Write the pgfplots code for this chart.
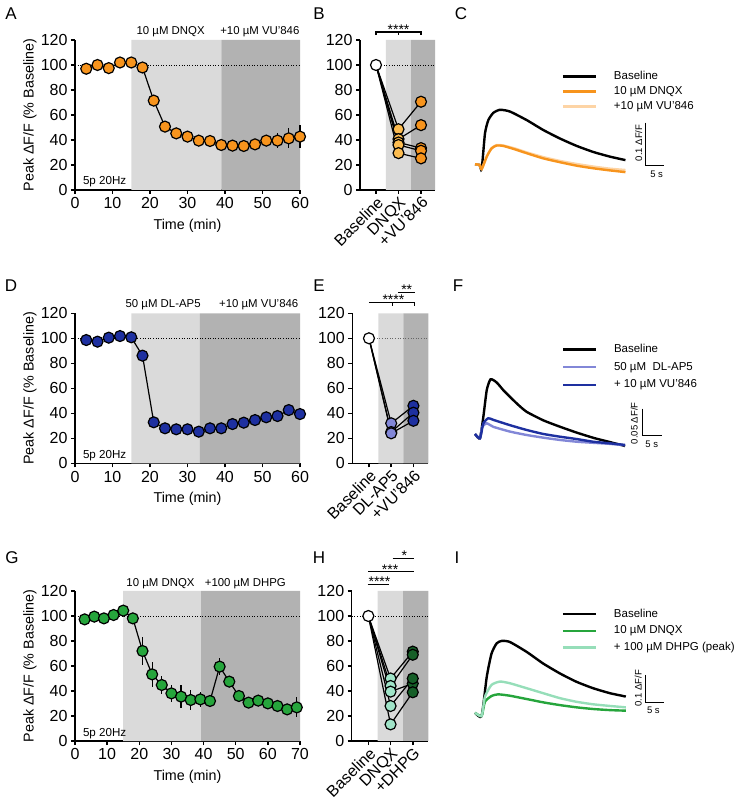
\documentclass[border=0pt]{standalone}
\usepackage{pgfplots}
\pgfplotsset{compat=1.18}
\usepackage{pgfplotstable}
\usepackage{fontspec}
\setmainfont{Liberation Sans}

\definecolor{shL}{RGB}{218,218,218}
\definecolor{shD}{RGB}{178,178,178}
\definecolor{orA}{RGB}{247,148,29}
\definecolor{orL}{RGB}{252,188,80}
\definecolor{orT}{RGB}{253,212,165}
\definecolor{blD}{RGB}{30,48,160}
\definecolor{blL}{RGB}{130,135,215}
\definecolor{grA}{RGB}{38,165,60}
\definecolor{grL}{RGB}{160,228,200}
\definecolor{grD}{RGB}{22,95,40}
\definecolor{grT}{RGB}{150,222,185}

\pgfplotstableread{
x y e
3 97 0
6 100 0
9 97.5 0
12 102 0
15 102 0
18 98 0
21 71.5 2
24 50.7 2
27 45.3 2
30 42.7 2
33 39.5 2
36 39.2 3
39 36 3
42 35.5 3
45 35.2 3
48 36.5 3
51 39.5 4
54 39.5 6
57 41.3 8
60 42.7 9
}\dataA

\pgfplotstableread{
x y e
3 98.6 0
6 97.3 0
9 100.5 0
12 101.8 0
15 100.8 0
18 86.1 1
21 32.8 1
24 28 1
27 27.2 1
30 27.2 1
33 25.3 1
36 28 1
39 28 1
42 31.4 1
45 32.5 1
48 34.6 1
51 36.8 1
54 37.8 1
57 42.6 2
60 39.4 2
}\dataD

\pgfplotstableread{
x y e
3 97.3 1
6 99.5 1
9 98.1 1
12 100.8 1
15 104.3 1
18 98.1 2
21 72 11
24 53.3 10
27 44.8 7
30 38.1 7
33 35.5 9
36 32.8 8
39 33.3 6
42 32 3
45 59.5 7
48 47.5 4
51 36 4
54 30.7 3
57 32.3 3
60 30.1 3
63 28 4
66 25.3 4
69 26.9 8
}\dataG

\pgfplotsset{
  prism/.style={
    scale only axis, clip=false,
    axis lines=left,
    axis line style={line width=1.5pt,-},
    tick align=outside,
    major tick length=4pt,
    tick style={line width=1.5pt,black},
    ymin=0, ymax=120, ytick={0,20,...,120},
    /pgf/number format/assume math mode=true,
    tick label style={font=\fontsize{16}{18}\selectfont},
    label style={font=\fontsize{14.3}{16}\selectfont},
    height=150pt,
  },
  timeaxis/.style={prism, width=225pt, xmin=0,
    xlabel={Time (min)}, ylabel={Peak ΔF/F (\% Baseline)},
    ylabel style={at={(axis description cs:-0.2,0.5)}, anchor=center},
    xlabel style={at={(axis description cs:0.5,-0.24)}, anchor=center},
  },
  cataxis/.style={prism, xtick={0,1,2},
    x tick label style={rotate=45, anchor=north east, inner sep=1pt, font=\fontsize{16}{18}\selectfont},
  },
  dmark/.style={mark=*, mark size=5.5pt, mark options={fill=#1, draw=black, line width=1.2pt, solid}},
  tline/.style={black, line width=1.2pt},
  traceax/.style={scale only axis, clip=false, hide axis, xmin=0, xmax=45,
    legend cell align=left,
    legend image code/.code={\draw[line width=2.6pt,##1] (0pt,0pt) -- (33pt,0pt); \path[draw=none, fill=none] (0pt,0pt) -- (51pt,0pt);},
    legend style={anchor=north west, draw=none, fill=none, inner sep=0pt, outer sep=0pt,
      column sep=0pt, nodes={inner sep=0pt, text height=8pt, text depth=2pt},
      font=\fontsize{11.5}{13}\selectfont},
  },
  trace/.style={line width=2.4pt, smooth, tension=0.35, no marks, #1},
}

\begin{document}
\begin{tikzpicture}[x=1pt,y=1pt]
\useasboundingbox (0,0) rectangle (740,806);

% panel letters
\node[font=\fontsize{17}{19}\selectfont] at (11,792) {A};
\node[font=\fontsize{17}{19}\selectfont] at (319,792) {B};
\node[font=\fontsize{17}{19}\selectfont] at (461,792) {C};
\node[font=\fontsize{17}{19}\selectfont] at (11,520) {D};
\node[font=\fontsize{17}{19}\selectfont] at (319,520) {E};
\node[font=\fontsize{17}{19}\selectfont] at (458,520) {F};
\node[font=\fontsize{17}{19}\selectfont] at (12,248) {G};
\node[font=\fontsize{17}{19}\selectfont] at (319,248) {H};
\node[font=\fontsize{17}{19}\selectfont] at (457,248) {I};

% ---------------- A ----------------
\begin{axis}[timeaxis, at={(75pt,616pt)}, anchor=south west, xmax=60, xtick={0,10,...,60}]
\addplot[draw=none, fill=shL, forget plot] coordinates {(15,0) (15,120) (39,120) (39,0)} \closedcycle;
\addplot[draw=none, fill=shD, forget plot] coordinates {(39,0) (39,120) (60,120) (60,0)} \closedcycle;
\addplot[black, line width=0.9pt, dash pattern=on 1pt off 1.6pt] coordinates {(0,100) (60,100)};
\addplot[tline, dmark=orA, error bars/.cd, y dir=both, y explicit, error mark=none,
  error bar style={line width=1.2pt, black}] table[x=x, y=y, y error=e] {\dataA};
\node[font=\fontsize{11.4}{13}\selectfont] at (axis cs:25.5,126.4) {10 µM DNQX};
\node[font=\fontsize{11.4}{13}\selectfont] at (axis cs:49.3,126.4) {+10 µM VU’846};
\node[font=\fontsize{11.6}{13}\selectfont, anchor=west] at (axis cs:1.2,6.4) {5p 20Hz};
\end{axis}

% ---------------- B ----------------
\begin{axis}[cataxis, at={(360pt,616pt)}, anchor=south west, width=75pt,
  xmin=-0.711, xmax=2.622, xticklabels={Baseline,DNQX,+VU’846}]
\addplot[draw=none, fill=shL, forget plot] coordinates {(0.444,0) (0.444,120) (1.556,120) (1.556,0)} \closedcycle;
\addplot[draw=none, fill=shD, forget plot] coordinates {(1.556,0) (1.556,120) (2.622,120) (2.622,0)} \closedcycle;
\addplot[black, line width=0.9pt, dash pattern=on 1pt off 1.6pt] coordinates {(0,100) (2.622,100)};
\addplot[tline] coordinates {(0,100) (1,48.6) (2,70.6)};
\addplot[tline] coordinates {(0,100) (1,40.7) (2,51.9)};
\addplot[tline] coordinates {(0,100) (1,38) (2,33.5)};
\addplot[tline] coordinates {(0,100) (1,36) (2,31.4)};
\addplot[tline] coordinates {(0,100) (1,29.5) (2,25.3)};
\addplot[only marks, dmark=white] coordinates {(0,100)};
\addplot[only marks, dmark=orL] coordinates {(1,48.6) (1,40.7) (1,38) (1,36) (1,29.5)};
\addplot[only marks, dmark=orA] coordinates {(2,70.6) (2,51.9) (2,33.5) (2,31.4) (2,25.3)};
\draw[line width=1.2pt] (axis cs:0,123.9) -- (axis cs:0,126.4) -- (axis cs:2,126.4) -- (axis cs:2,123.9);
\draw[line width=1.2pt] (axis cs:1,126.4) -- (axis cs:1,123.9);
\node[font=\fontsize{14}{15}\selectfont, anchor=base, yshift=-2.3pt] at (axis cs:1,126.4) {****};
\end{axis}

% ---------------- C ----------------
\begin{axis}[traceax, at={(475pt,623.1pt)}, anchor=south west, width=165.15pt, height=81.7pt,
  ymin=-0.03, ymax=0.16, legend style={at={(axis cs:23.62,0.2286)}, row sep=5pt}]
\addplot[trace=black] coordinates {(0,0.013) (1.2,0.012) (1.82,0.002) (2.72,0.085) (3.63,0.116) (5.0,0.133) (6.8,0.140) (9.5,0.136) (14.1,0.116) (18.6,0.093) (23.2,0.073) (27.7,0.056) (32.2,0.042) (36.8,0.031) (41,0.023)};
\addlegendentry{Baseline}
\addplot[trace=orT, forget plot] coordinates {(0,0.013) (1.2,0.012) (1.82,0.002) (3.2,0.032) (4.5,0.051) (5.9,0.058) (7.7,0.057) (10.9,0.050) (14.1,0.041) (18.6,0.030) (23.2,0.021) (27.7,0.014) (32.2,0.008) (36.8,0.003) (41,0.0)};
\addplot[trace=orA] coordinates {(0,0.013) (1.2,0.012) (1.82,0.002) (3.2,0.031) (4.5,0.050) (5.9,0.057) (7.7,0.056) (10.9,0.048) (14.1,0.039) (18.6,0.027) (23.2,0.018) (27.7,0.010) (32.2,0.004) (36.8,-0.001) (41,-0.005)};
\addlegendentry{10 µM DNQX}
\addlegendimage{trace=orT}
\addlegendentry{+10 µM VU’846}
\draw[line width=1.3pt] (axis cs:46.5,0.110) -- (axis cs:46.5,0.010) -- (axis cs:51.5,0.010);
\node[rotate=90, font=\fontsize{9.5}{10}\selectfont] at (axis cs:44.6,0.063) {0.1 ΔF/F};
\node[font=\fontsize{9.5}{10}\selectfont] at (axis cs:49.5,-0.0093) {5 s};
\end{axis}

% ---------------- D ----------------
\begin{axis}[timeaxis, at={(75pt,342.7pt)}, anchor=south west, xmax=60, xtick={0,10,...,60}]
\addplot[draw=none, fill=shL, forget plot] coordinates {(15,0) (15,120) (33.3,120) (33.3,0)} \closedcycle;
\addplot[draw=none, fill=shD, forget plot] coordinates {(33.3,0) (33.3,120) (60,120) (60,0)} \closedcycle;
\addplot[black, line width=0.9pt, dash pattern=on 1pt off 1.6pt] coordinates {(0,100) (60,100)};
\addplot[tline, dmark=blD, error bars/.cd, y dir=both, y explicit, error mark=none,
  error bar style={line width=1.2pt, black}] table[x=x, y=y, y error=e] {\dataD};
\node[font=\fontsize{11.4}{13}\selectfont] at (axis cs:23.5,126.6) {50 µM DL-AP5};
\node[font=\fontsize{11.4}{13}\selectfont] at (axis cs:49,126.6) {+10 µM VU’846};
\node[font=\fontsize{11.6}{13}\selectfont, anchor=west] at (axis cs:1.2,6.4) {5p 20Hz};
\end{axis}

% ---------------- E ----------------
\begin{axis}[cataxis, at={(352.3pt,342.7pt)}, anchor=south west, width=76pt,
  xmin=-0.75, xmax=2.67, xticklabels={Baseline,DL-AP5,+VU’846}]
\addplot[draw=none, fill=shL, forget plot] coordinates {(0.42,0) (0.42,120) (1.545,120) (1.545,0)} \closedcycle;
\addplot[draw=none, fill=shD, forget plot] coordinates {(1.545,0) (1.545,120) (2.67,120) (2.67,0)} \closedcycle;
\addplot[black!60, line width=0.9pt, dash pattern=on 1pt off 1.6pt] coordinates {(0,100) (2.67,100)};
\addplot[tline] coordinates {(0,100) (1,32) (2,46)};
\addplot[tline] coordinates {(0,100) (1,25) (2,40.5)};
\addplot[tline] coordinates {(0,100) (1,24) (2,34)};
\addplot[only marks, dmark=white] coordinates {(0,100)};
\addplot[only marks, dmark=blL] coordinates {(1,32) (1,25) (1,24)};
\addplot[only marks, dmark=blD] coordinates {(2,46) (2,40.5) (2,34)};
\draw[line width=1.2pt] (axis cs:0,128.5) -- (axis cs:2.05,128.5) -- (axis cs:2.05,126);
\draw[line width=1.2pt] (axis cs:1.05,128.5) -- (axis cs:1.05,126);
\node[font=\fontsize{14}{15}\selectfont, anchor=base, yshift=-2.3pt] at (axis cs:1.1,128.5) {****};
\draw[line width=1.2pt] (axis cs:1.3,136.8) -- (axis cs:2.05,136.8);
\node[font=\fontsize{14}{15}\selectfont, anchor=base, yshift=-2.3pt] at (axis cs:1.7,136.8) {**};
\end{axis}

% ---------------- F ----------------
\begin{axis}[traceax, at={(475pt,351.98pt)}, anchor=south west, width=171pt, height=85.44pt,
  ymin=-0.03, ymax=0.13, legend style={at={(axis cs:22.82,0.1755)}, row sep=7.8pt}]
\addplot[trace=black] coordinates {(0,0.0075) (1.3,-0.0006) (2.2,0.040) (3.1,0.090) (4.1,0.110) (5.7,0.104) (7.4,0.090) (9.2,0.077) (11.4,0.062) (13.6,0.049) (18.0,0.033) (22.4,0.021) (26.8,0.010) (31.3,0.000) (35.7,-0.008) (39.5,-0.015)};
\addlegendentry{Baseline}
\addplot[trace=blL] coordinates {(0,0.0075) (1.3,-0.0006) (1.9,0.021) (3.1,0.0275) (4.8,0.021) (9.2,0.012) (13.6,0.0056) (18,0.0006) (22.4,-0.0037) (26.8,-0.007) (31.1,-0.009) (35.5,-0.011) (39.5,-0.0137)};
\addlegendentry{50 µM\ \ DL-AP5}
\addplot[trace=blD] coordinates {(0,0.0075) (1.3,-0.0006) (2.2,0.0275) (3.5,0.037) (4.8,0.034) (9.2,0.024) (13.6,0.015) (18.0,0.0075) (22.4,0.0024) (26.8,-0.002) (31.1,-0.007) (35.5,-0.010) (39.5,-0.013)};
\addlegendentry{+ 10 µM VU’846}
\draw[line width=1.3pt] (axis cs:44.1,0.055) -- (axis cs:44.1,0.005) -- (axis cs:49.1,0.005);
\node[rotate=90, font=\fontsize{9.5}{10}\selectfont] at (axis cs:41.9,0.0275) {0.05 ΔF/F};
\node[font=\fontsize{9.5}{10}\selectfont] at (axis cs:46.5,-0.011) {5 s};
\end{axis}

% ---------------- G ----------------
\begin{axis}[timeaxis, at={(75pt,65pt)}, anchor=south west, xmax=70, xtick={0,10,...,70}]
\addplot[draw=none, fill=shL, forget plot] coordinates {(15,0) (15,120) (39.2,120) (39.2,0)} \closedcycle;
\addplot[draw=none, fill=shD, forget plot] coordinates {(39.2,0) (39.2,120) (70,120) (70,0)} \closedcycle;
\addplot[black, line width=0.9pt, dash pattern=on 1pt off 1.6pt] coordinates {(0,100) (70,100)};
\addplot[tline, dmark=grA, error bars/.cd, y dir=both, y explicit, error mark=none,
  error bar style={line width=1.2pt, black}] table[x=x, y=y, y error=e] {\dataG};
\node[font=\fontsize{11.4}{13}\selectfont] at (axis cs:26.6,126.2) {10 µM DNQX};
\node[font=\fontsize{11.4}{13}\selectfont] at (axis cs:53,126.2) {+100 µM DHPG};
\node[font=\fontsize{11.6}{13}\selectfont, anchor=west] at (axis cs:1.4,5.6) {5p 20Hz};
\end{axis}

% ---------------- H ----------------
\begin{axis}[cataxis, at={(351.7pt,65pt)}, anchor=south west, width=76.6pt,
  xmin=-0.75, xmax=2.7, xticklabels={Baseline,DNQX,+DHPG}]
\addplot[draw=none, fill=shL, forget plot] coordinates {(0.42,0) (0.42,120) (1.57,120) (1.57,0)} \closedcycle;
\addplot[draw=none, fill=shD, forget plot] coordinates {(1.57,0) (1.57,120) (2.7,120) (2.7,0)} \closedcycle;
\addplot[black, line width=0.9pt, dash pattern=on 1pt off 1.6pt] coordinates {(-0.75,100) (2.7,100)};
\addplot[tline] coordinates {(0,100) (1,50) (2,71.5)};
\addplot[tline] coordinates {(0,100) (1,44) (2,69)};
\addplot[tline] coordinates {(0,100) (1,39.5) (2,46)};
\addplot[tline] coordinates {(0,100) (1,28) (2,50)};
\addplot[tline] coordinates {(0,100) (1,13.3) (2,39)};
\addplot[only marks, dmark=white] coordinates {(0,100)};
\addplot[only marks, dmark=grL] coordinates {(1,50) (1,44) (1,39.5) (1,28) (1,13.3)};
\addplot[only marks, dmark=grD] coordinates {(2,71.5) (2,69) (2,46) (2,50) (2,39)};
\draw[line width=1.2pt] (axis cs:-0.03,125.4) -- (axis cs:0.95,125.4);
\node[font=\fontsize{14}{15}\selectfont, anchor=base, yshift=-2.3pt] at (axis cs:0.5,125.4) {****};
\draw[line width=1.2pt] (axis cs:0,135.4) -- (axis cs:2.07,135.4);
\node[font=\fontsize{14}{15}\selectfont, anchor=base, yshift=-2.3pt] at (axis cs:0.98,135.4) {***};
\draw[line width=1.2pt] (axis cs:1.09,146.2) -- (axis cs:2.07,146.2);
\node[font=\fontsize{14}{15}\selectfont, anchor=base, yshift=-2.3pt] at (axis cs:1.62,146.2) {*};
\end{axis}

% ---------------- I ----------------
\begin{axis}[traceax, at={(475pt,83.69pt)}, anchor=south west, width=165.15pt, height=91.41pt,
  ymin=-0.03, ymax=0.30, legend style={at={(axis cs:23.62,0.379)}, row sep=6.8pt}]
\addplot[trace=black] coordinates {(0,0.0047) (1.8,-0.0072) (3.2,0.134) (4.5,0.218) (5.9,0.255) (7.3,0.264) (9.5,0.260) (14.1,0.224) (18.6,0.182) (23.2,0.146) (27.7,0.116) (32.2,0.093) (36.8,0.075) (41.1,0.063)};
\addlegendentry{Baseline}
\addplot[trace=grA] coordinates {(0,0.0047) (1.8,-0.0072) (2.7,0.044) (4.5,0.065) (6.3,0.071) (9.5,0.066) (14.1,0.054) (18.6,0.042) (23.2,0.032) (27.7,0.024) (32.2,0.018) (36.8,0.014) (41.1,0.012)};
\addlegendentry{10 µM DNQX}
\addplot[trace=grT] coordinates {(0,0.0047) (1.8,-0.0072) (2.7,0.062) (4.5,0.105) (6.8,0.117) (9.5,0.111) (14.1,0.093) (18.6,0.075) (23.2,0.057) (27.7,0.044) (32.2,0.035) (36.8,0.029) (41.1,0.024)};
\addlegendentry{+ 100 µM DHPG (peak)}
\draw[line width=1.3pt] (axis cs:46.5,0.141) -- (axis cs:46.5,0.041) -- (axis cs:51.5,0.041);
\node[rotate=90, font=\fontsize{9.5}{10}\selectfont] at (axis cs:44.5,0.093) {0.1 ΔF/F};
\node[font=\fontsize{9.5}{10}\selectfont] at (axis cs:48.6,0.012) {5 s};
\end{axis}

\end{tikzpicture}
\end{document}
